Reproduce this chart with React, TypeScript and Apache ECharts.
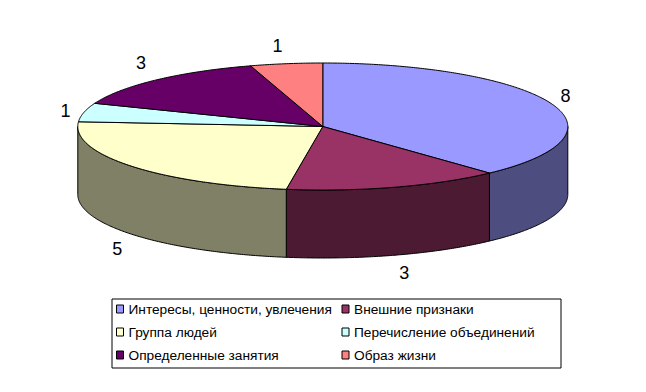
import React, { useEffect, useRef } from "react";
import * as echarts from "echarts";

const categories = [
  "Интересы, ценности, увлечения",
  "Внешние признаки",
  "Группа людей",
  "Перечисление объединений",
  "Определенные занятия",
  "Образ жизни",
];
const values = [8, 3, 5, 1, 3, 1];
const topColors = ["#9999FF", "#993366", "#FFFFCC", "#CCFFFF", "#660066", "#FF8080"];
const sideColors = ["#4D4D80", "#4D1A33", "#808066", "#668080", "#330033", "#804040"];

const CX = 322.8;
const CY = 126.5;
const RX = 245;
const RY = 63.5;
const DEPTH = 68;
const LABEL_RX = RX + 18;
const LABEL_RY = RY + 20;
const LABEL_NUDGE = [[-2, 0], [4, -1], [0, 2], [-1, 3], [-3, -2], [-6, 2]];
const FONT = "'Liberation Sans', Arial, sans-serif";
const TOTAL = values.reduce((a, b) => a + b, 0);
const TAU = Math.PI * 2;

const rim = (a: number, dy = 0): number[] => [CX + RX * Math.sin(a), CY - RY * Math.cos(a) + dy];

function arc(from: number, to: number, dy = 0): number[][] {
  const n = Math.max(2, Math.ceil(Math.abs(to - from) / 0.01));
  const pts: number[][] = [];
  for (let i = 0; i <= n; i++) pts.push(rim(from + ((to - from) * i) / n, dy));
  return pts;
}

function App() {
  const ref = useRef<HTMLDivElement>(null);
  useEffect(() => {
    document.body.style.margin = "0";
    const chart = echarts.init(ref.current!, null, { renderer: "svg" });
    let acc = 0;
    const series = values.map((v, i) => {
      const start = (acc / TOTAL) * TAU;
      acc += v;
      const end = (acc / TOTAL) * TAU;
      return {
        type: "custom",
        name: categories[i],
        coordinateSystem: "none",
        silent: true,
        z: 2,
        itemStyle: { color: topColors[i] },
        data: [[start, end, v]],
        renderItem: (_: any, api: any) => {
          const a0 = api.value(0);
          const a1 = api.value(1);
          const children: any[] = [];
          const w0 = Math.max(a0, Math.PI / 2);
          const w1 = Math.min(a1, (Math.PI * 3) / 2);
          if (w1 > w0) {
            children.push({
              type: "polygon",
              shape: { points: [...arc(w0, w1), ...arc(w1, w0, DEPTH)] },
              style: { fill: sideColors[i], stroke: "#000", lineWidth: 1 },
            });
          }
          children.push({
            type: "polygon",
            shape: { points: [[CX, CY], ...arc(a0, a1)] },
            style: { fill: topColors[i], stroke: "#000", lineWidth: 1 },
          });
          const mid = (a0 + a1) / 2;
          const lower = Math.cos(mid) < 0;
          children.push({
            type: "text",
            style: {
              text: String(api.value(2)),
              x: CX + LABEL_RX * Math.sin(mid) + LABEL_NUDGE[i][0],
              y: CY - LABEL_RY * Math.cos(mid) + (lower ? DEPTH : 0) + LABEL_NUDGE[i][1],
              font: `18px ${FONT}`,
              fill: "#000",
              align: "center",
              verticalAlign: "middle",
            },
          });
          return { type: "group", children };
        },
      };
    });
    chart.setOption({
      animation: false,
      backgroundColor: "#fff",
      legend: {
        left: 112,
        top: 299,
        width: 470,
        data: categories,
        icon: "rect",
        orient: "horizontal",
        itemWidth: 7,
        itemHeight: 8,
        itemGap: 6,
        padding: [1.5, 0, 4.5, 4],
        borderColor: "#000",
        borderWidth: 1,
        backgroundColor: "#fff",
        selectedMode: false,
        itemStyle: { borderColor: "#000", borderWidth: 1 },
        textStyle: { fontFamily: FONT, fontSize: 13.7, color: "#000", width: 207, lineHeight: 17, overflow: "none" },
      },
      series,
    });
    return () => chart.dispose();
  }, []);
  return <div ref={ref} style={{ position: "absolute", left: 0, top: 0, width: 646, height: 392 }} />;
}

export default App;
